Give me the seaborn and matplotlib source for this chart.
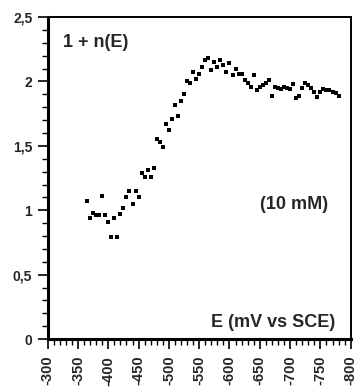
import numpy as np
import pandas as pd
import matplotlib
matplotlib.use("Agg")
import matplotlib.pyplot as plt
import seaborn as sns
from matplotlib.ticker import MultipleLocator

# --- DATA ---
potential_mv = [
    -365, -370, -375, -380, -385, -390, -395, -400, -405, -410,
    -415, -420, -425, -430, -435, -440, -445, -450, -455, -460,
    -465, -470, -475, -480, -485, -490, -495, -500, -505, -510,
    -515, -520, -525, -530, -535, -540, -545, -550, -555, -560,
    -565, -570, -575, -580, -585, -590, -595, -600, -605, -610,
    -615, -620, -625, -630, -635, -640, -645, -650, -655, -660,
    -665, -670, -675, -680, -685, -690, -695, -700, -705, -710,
    -715, -720, -725, -730, -735, -740, -745, -750, -755, -760,
    -765, -770, -775, -780,
]
one_plus_n = [
    1.07, 0.94, 0.98, 0.96, 0.96, 1.11, 0.96, 0.91, 0.79, 0.94,
    0.79, 0.97, 1.02, 1.10, 1.15, 1.05, 1.15, 1.10, 1.29, 1.26,
    1.31, 1.26, 1.33, 1.55, 1.53, 1.49, 1.67, 1.62, 1.71, 1.82,
    1.73, 1.85, 1.90, 2.00, 1.99, 2.07, 2.02, 2.06, 2.11, 2.17,
    2.18, 2.09, 2.15, 2.11, 2.17, 2.13, 2.07, 2.14, 2.05, 2.10,
    2.06, 2.06, 2.01, 1.99, 1.96, 2.05, 1.93, 1.96, 1.97, 1.99,
    2.01, 1.89, 1.96, 1.95, 1.94, 1.96, 1.95, 1.94, 1.98, 1.87,
    1.89, 1.95, 1.99, 1.97, 1.95, 1.92, 1.88, 1.92, 1.94, 1.93,
    1.93, 1.92, 1.91, 1.89,
]
x_ticks = [-300, -350, -400, -450, -500, -550, -600, -650, -700, -750, -800]
x_tick_labels = ["-300", "-350", "-400", "-450", "-500", "-550",
                 "-600", "-650", "-700", "-750", "-800"]
y_ticks = [0, 0.5, 1, 1.5, 2, 2.5]
y_tick_labels = ["0", "0,5", "1", "1,5", "2", "2,5"]

df = pd.DataFrame({"E": potential_mv, "n": one_plus_n})

sns.set_style("ticks")
plt.rcParams["font.family"] = ["Liberation Sans", "DejaVu Sans"]
plt.rcParams["font.weight"] = "bold"

fig = plt.figure(figsize=(3.61, 3.88), dpi=100)
ax = fig.add_axes([0.132, 0.126, 0.8395, 0.83])

sns.scatterplot(data=df, x="E", y="n", marker="s", s=12, color="black",
                linewidth=0, ax=ax, legend=False)

ax.set_xlim(-300, -800)
ax.set_ylim(0, 2.5)
ax.set_xticks(x_ticks)
ax.set_xticklabels(x_tick_labels, rotation=90, fontsize=10.5, fontweight="bold")
ax.set_yticks(y_ticks)
ax.set_yticklabels(y_tick_labels, fontsize=10, fontweight="bold")
ax.xaxis.set_minor_locator(MultipleLocator(10))
ax.yaxis.set_minor_locator(MultipleLocator(0.1))
ax.tick_params(which="major", direction="out", length=7, width=1.2,
               color="black", pad=4)
ax.tick_params(axis="x", which="major", pad=5)
ax.tick_params(which="minor", direction="out", length=4, width=1.0,
               color="black")
ax.set_xlabel("")
ax.set_ylabel("")

for side in ["left", "bottom"]:
    ax.spines[side].set_linewidth(2.2)
for side in ["top", "right"]:
    ax.spines[side].set_linewidth(1.4)
for sp in ax.spines.values():
    sp.set_color("black")

ax.text(0.05, 0.922, "1 + n(E)", transform=ax.transAxes, fontsize=13,
        fontweight="bold", ha="left", va="center")
ax.text(0.926, 0.419, "(10 mM)", transform=ax.transAxes, fontsize=13,
        fontweight="bold", ha="right", va="center")
ax.text(0.948, 0.051, "E (mV vs SCE)", transform=ax.transAxes, fontsize=13,
        fontweight="bold", ha="right", va="center")

fig.savefig("out.png", dpi=100)
